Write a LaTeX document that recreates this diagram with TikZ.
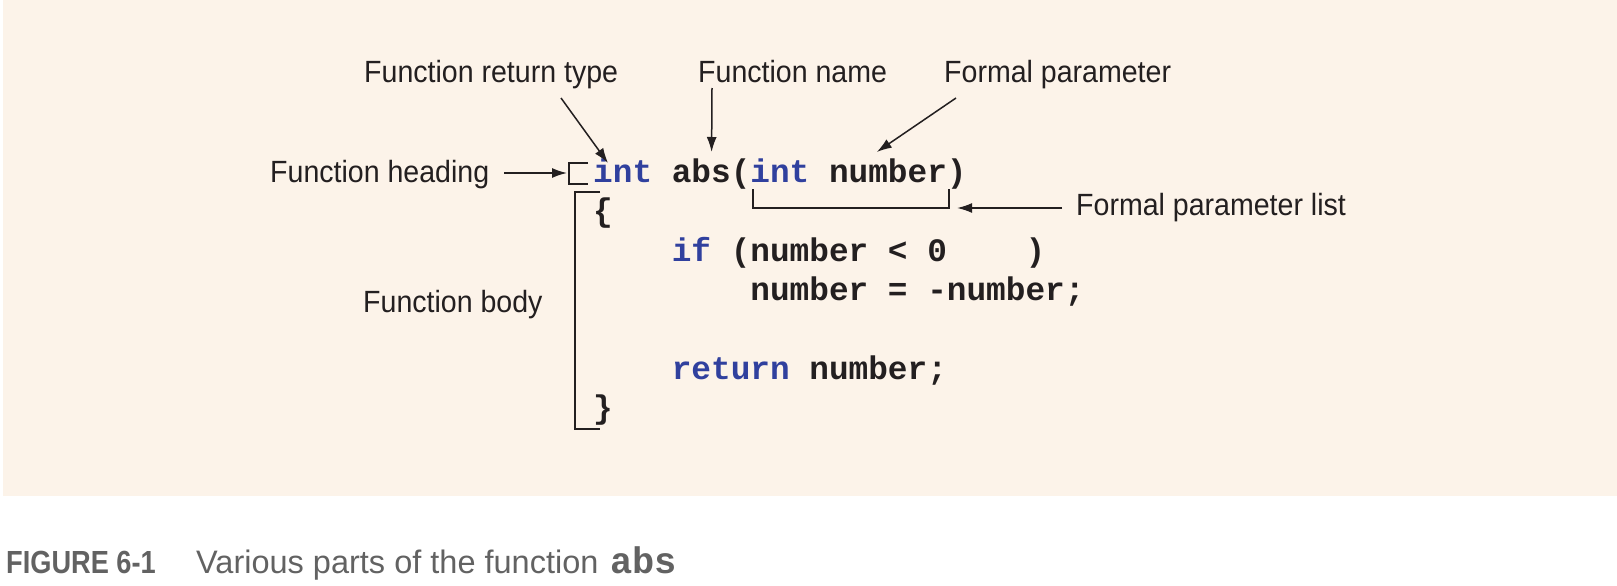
\documentclass[tikz,border=0pt]{standalone}
\usepackage{fontspec}
\setmainfont[FakeStretch=0.93]{Liberation Sans}
\setmonofont{Liberation Mono}
\newfontfamily\capboldfont[FakeStretch=0.85]{Liberation Sans Bold}
\newfontfamily\captextfont{Liberation Sans}
\usetikzlibrary{arrows.meta,positioning,calc}
\definecolor{panel}{RGB}{252,243,233}
\definecolor{keyword}{RGB}{48,64,158}
\definecolor{ink}{RGB}{35,31,32}
\definecolor{capgray}{RGB}{98,98,98}
\newcommand{\cx}[1]{593+19.65*#1}

\begin{document}
\begin{tikzpicture}[
    x=1pt, y=-1pt,
    note/.style={anchor=base west, inner sep=0pt, text=ink, font=\fontsize{30.7}{36}\selectfont},
    codetxt/.style={anchor=base west, inner sep=0pt, text=ink, font=\fontsize{32.75}{39}\selectfont\ttfamily\bfseries},
    kw/.style={codetxt, text=keyword},
    arrow/.style={-{Latex[length=15pt,width=10pt]}, line width=1.5pt, draw=ink},
    bracket/.style={line width=1.5pt, draw=ink},
]
\useasboundingbox (0,0) rectangle (1617,586);
\fill[panel] (3,0) rectangle (1617,496);

% Function heading
\node[kw] (rettype) at ({\cx{0}},182) {int};
\node[codetxt] (fname) at ({\cx{4}},182) {abs(};
\node[kw] (ptype) at ({\cx{8}},182) {int};
\node[codetxt] (pname) at ({\cx{12}},182) {number};
\node[codetxt] (pclose) at ({\cx{18}},182) {)};

% Function body
\node[codetxt] (lbrace) at ({\cx{0}},221) {\{};
\node[kw] (ifkw) at ({\cx{4}},261) {if};
\node[codetxt] (cond) at ({\cx{7}},261) {(number < 0};
\node[codetxt] (condclose) at ({\cx{22}},261) {)};
\node[codetxt] (assign) at ({\cx{8}},300) {number = -number;};
\node[kw] (retkw) at ({\cx{4}},379) {return};
\node[codetxt] (retval) at ({\cx{11}},379) {number;};
\node[codetxt] (rbrace) at ({\cx{0}},418) {\}};

% Labels
\node[note] (lreturn) at (364,82) {Function return type};
\node[note] (lname) at (698,82) {Function name};
\node[note] (lformal) at (944,82) {Formal parameter};
\node[note] (lheading) at (270,182) {Function heading};
\node[note] (llist) at (1076,215) {Formal parameter list};
\node[note] (lbody) at (363,312) {Function body};

% Brackets
\draw[bracket] ($(rettype.base west)+(-5,-19)$) -- ++(-19,0) -- ++(0,21) -- ++(19,0);
\draw[bracket] ($(ptype.base west)+(3,7)$) |- ($(pname.base east)+(2,26)$) -- ($(pname.base east)+(2,7)$);
\draw[bracket] ($(lbrace.base west)+(7,-29)$) -- ($(lbrace.base west)+(-18,-29)$) -- ($(rbrace.base west)+(-18,11)$) -- ($(rbrace.base west)+(7,11)$);

% Arrows
\draw[arrow] ($(lreturn.base west)+(197,16)$) -- ($(rettype.base west)+(15,-19)$);
\draw[arrow] ($(lname.base west)+(14,6)$) -- ($(fname.base west)+(40,-30)$);
\draw[arrow] ($(lformal.base west)+(12,16)$) -- ($(pname.base west)+(48,-30)$);
\draw[arrow] ($(lheading.base east)+(15,-9)$) -- ($(rettype.base west)+(-26,-9)$);
\draw[arrow] ($(llist.base west)+(-14,-7)$) -- ($(pname.base east)+(10,26)$);

% Caption
\node[anchor=base west, inner sep=0pt, text=capgray, font=\fontsize{32}{38}\selectfont\capboldfont] (capnum) at (6,573) {FIGURE 6-1};
\node[anchor=base west, inner sep=0pt, text=capgray, font=\fontsize{32.5}{38}\selectfont\captextfont] (captext) at (196,573) {Various parts of the function};
\node[anchor=base west, inner sep=0pt, text=capgray, font=\fontsize{37}{42}\selectfont\ttfamily\bfseries] (capcode) at (610,573) {abs};
\end{tikzpicture}
\end{document}
